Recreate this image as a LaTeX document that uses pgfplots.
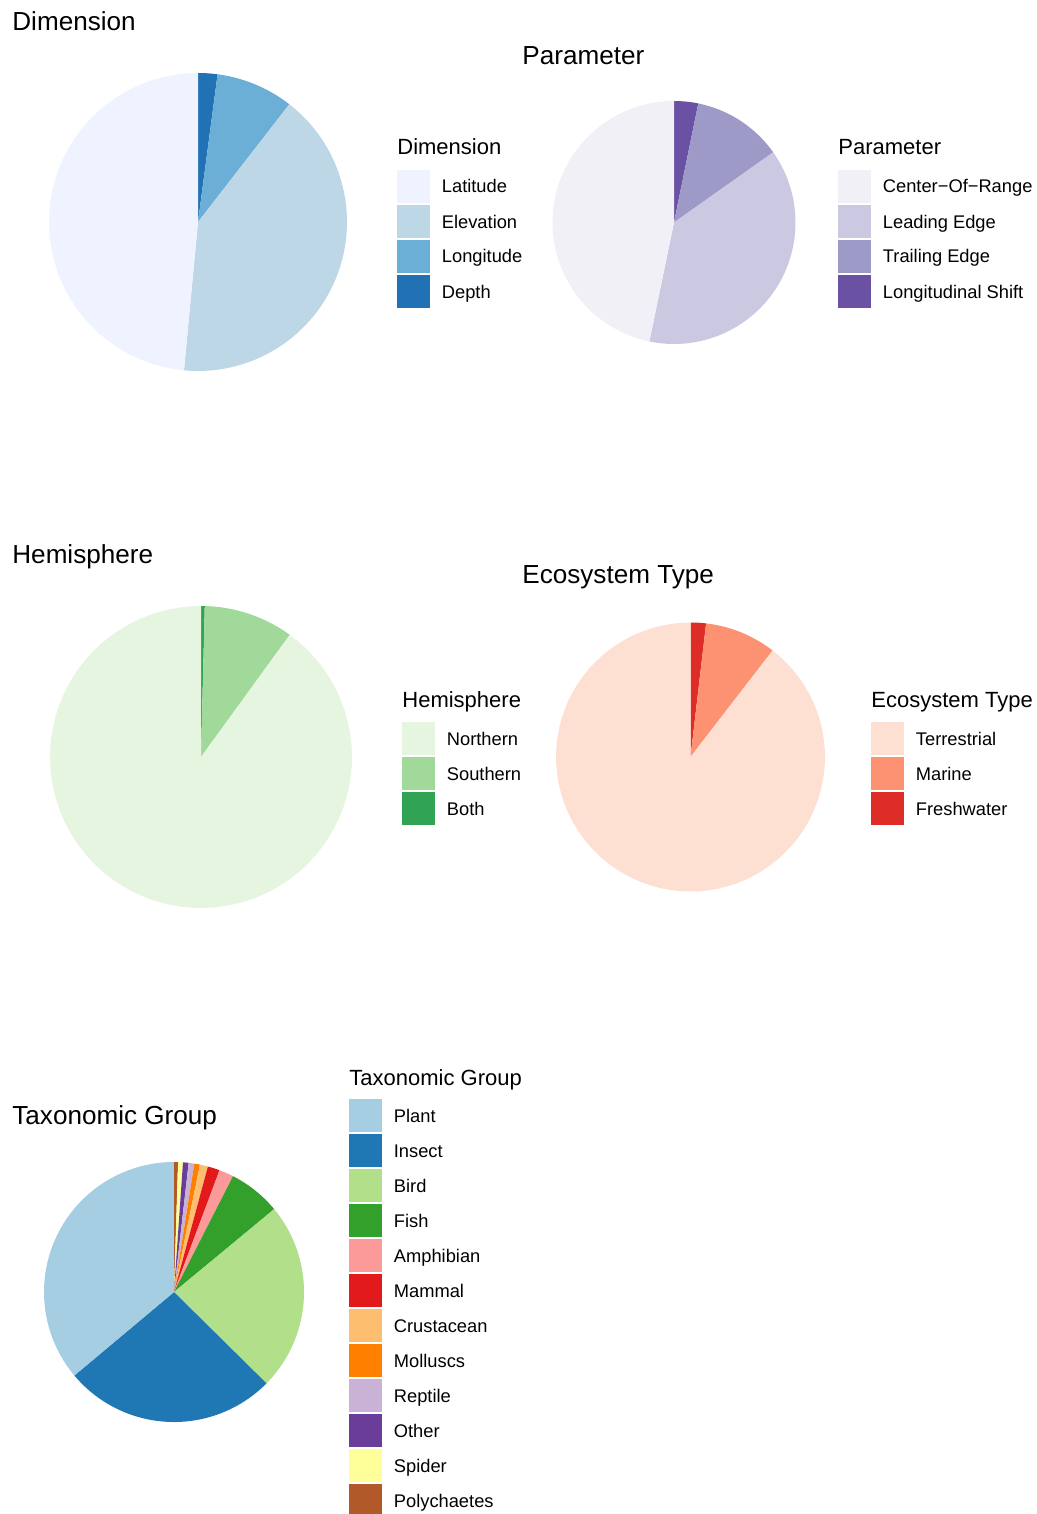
\documentclass[border=0pt]{standalone}
\usepackage{pgfplots}
\pgfplotsset{compat=1.18}
\usepackage{fontspec}
\setmainfont{Liberation Sans}

% Blues
\definecolor{dA}{HTML}{EFF3FF}\definecolor{dB}{HTML}{BDD7E7}\definecolor{dC}{HTML}{6BAED6}\definecolor{dD}{HTML}{2171B5}
% Purples
\definecolor{pA}{HTML}{F2F0F7}\definecolor{pB}{HTML}{CBC9E2}\definecolor{pC}{HTML}{9E9AC8}\definecolor{pD}{HTML}{6A51A3}
% Greens
\definecolor{hA}{HTML}{E5F5E0}\definecolor{hB}{HTML}{A1D99B}\definecolor{hC}{HTML}{31A354}
% Reds
\definecolor{eA}{HTML}{FEE0D2}\definecolor{eB}{HTML}{FC9272}\definecolor{eC}{HTML}{DE2D26}
% Paired
\definecolor{t1}{HTML}{A6CEE3}\definecolor{t2}{HTML}{1F78B4}\definecolor{t3}{HTML}{B2DF8A}
\definecolor{t4}{HTML}{33A02C}\definecolor{t5}{HTML}{FB9A99}\definecolor{t6}{HTML}{E31A1C}
\definecolor{t7}{HTML}{FDBF6F}\definecolor{t8}{HTML}{FF7F00}\definecolor{t9}{HTML}{CAB2D6}
\definecolor{t10}{HTML}{6A3D9A}\definecolor{t11}{HTML}{FFFF99}\definecolor{t12}{HTML}{B15928}

% slice shares in percent, drawn clockwise from 12 o'clock
\gdef\cum{0}
\newcommand\pieslice[2]{%
  \pgfmathsetmacro\pa{\cum*3.6}%
  \pgfmathsetmacro\newcum{\cum+#2}%
  \pgfmathsetmacro\pb{\newcum*3.6}%
  \xdef\cum{\newcum}%
  \edef\doslice{\noexpand\addplot[draw=none, fill=#1, domain=\pa:\pb, samples=80]
    ({sin(x)},{cos(x)}) -- (axis cs:0,0) -- cycle;}%
  \doslice
}
\pgfplotsset{pie/.style={hide axis, scale only axis, clip=false,
  xmin=-1, xmax=1, ymin=-1, ymax=1, anchor=center}}

\newcommand\ptitle[3]{\node[anchor=base west, inner sep=0pt, font=\fontsize{13.05}{15}\selectfont] at (#1,#2) {#3};}
\newcommand\ltitle[3]{\node[anchor=base west, inner sep=0pt, font=\fontsize{11}{13}\selectfont] at (#1,#2) {#3};}
% key: x, top y, colour, label
\newcommand\lkey[4]{%
  \fill[#3] (#1,#2) rectangle ++(33,33);
  \node[anchor=base west, inner sep=0pt, font=\fontsize{9.15}{11}\selectfont] at (#1+44.5,#2+23) {#4};}

\begin{document}
\begin{tikzpicture}[x=0.5pt, y=-0.5pt]
\useasboundingbox (0,0) rectangle (1037,1514);
\coordinate (c1) at (198,222);
\coordinate (c2) at (674,222.5);
\coordinate (c3) at (201,757);
\coordinate (c4) at (690.5,757);
\coordinate (c5) at (174,1292);

% ---- Dimension ----
\begin{axis}[pie, at={(c1)}, width=149pt, height=149pt]
\gdef\cum{0}
\pieslice{dD}{2.1}   % Depth
\pieslice{dC}{8.4}   % Longitude
\pieslice{dB}{41.0}  % Elevation
\pieslice{dA}{48.5}  % Latitude
\end{axis}

% ---- Parameter ----
\begin{axis}[pie, at={(c2)}, width=121.5pt, height=121.5pt]
\gdef\cum{0}
\pieslice{pD}{3.2}    % Longitudinal Shift
\pieslice{pC}{12.0}   % Trailing Edge
\pieslice{pB}{38.05}  % Leading Edge
\pieslice{pA}{46.75}  % Center-Of-Range
\end{axis}

% ---- Hemisphere ----
\begin{axis}[pie, at={(c3)}, width=151pt, height=151pt]
\gdef\cum{0}
\pieslice{hC}{0.4}   % Both
\pieslice{hB}{9.6}   % Southern
\pieslice{hA}{90.0}  % Northern
\end{axis}

% ---- Ecosystem Type ----
\begin{axis}[pie, at={(c4)}, width=134.5pt, height=134.5pt]
\gdef\cum{0}
\pieslice{eC}{1.85}   % Freshwater
\pieslice{eB}{8.6}    % Marine
\pieslice{eA}{89.55}  % Terrestrial
\end{axis}

% ---- Taxonomic Group ----
\begin{axis}[pie, at={(c5)}, width=130pt, height=130pt]
\gdef\cum{0}
\pieslice{t12}{0.5}  % Polychaetes
\pieslice{t11}{0.6}  % Spider
\pieslice{t10}{0.7}  % Other
\pieslice{t9}{0.7}   % Reptile
\pieslice{t8}{0.7}   % Molluscs
\pieslice{t7}{1.0}   % Crustacean
\pieslice{t6}{1.5}   % Mammal
\pieslice{t5}{1.8}   % Amphibian
\pieslice{t4}{6.5}   % Fish
\pieslice{t3}{23.4}  % Bird
\pieslice{t2}{26.5}  % Insect
\pieslice{t1}{36.1}  % Plant
\end{axis}

% ---- titles ----
\ptitle{12}{31}{Dimension}
\ptitle{522}{65}{Parameter}
\ptitle{12}{563}{Hemisphere}
\ptitle{522}{583}{Ecosystem Type}
\ptitle{12}{1124}{Taxonomic Group}

% ---- legends ----
\ltitle{397}{155}{Dimension}
\lkey{397}{170}{dA}{Latitude}
\lkey{397}{205}{dB}{Elevation}
\lkey{397}{240}{dC}{Longitude}
\lkey{397}{275}{dD}{Depth}

\ltitle{838}{155}{Parameter}
\lkey{838}{170}{pA}{Center−Of−Range}
\lkey{838}{205}{pB}{Leading Edge}
\lkey{838}{240}{pC}{Trailing Edge}
\lkey{838}{275}{pD}{Longitudinal Shift}

\ltitle{402}{707}{Hemisphere}
\lkey{402}{722}{hA}{Northern}
\lkey{402}{757}{hB}{Southern}
\lkey{402}{792}{hC}{Both}

\ltitle{871}{707}{Ecosystem Type}
\lkey{871}{722}{eA}{Terrestrial}
\lkey{871}{757}{eB}{Marine}
\lkey{871}{792}{eC}{Freshwater}

\ltitle{349}{1085}{Taxonomic Group}
\lkey{349}{1099}{t1}{Plant}
\lkey{349}{1134}{t2}{Insect}
\lkey{349}{1169}{t3}{Bird}
\lkey{349}{1204}{t4}{Fish}
\lkey{349}{1239}{t5}{Amphibian}
\lkey{349}{1274}{t6}{Mammal}
\lkey{349}{1309}{t7}{Crustacean}
\lkey{349}{1344}{t8}{Molluscs}
\lkey{349}{1379}{t9}{Reptile}
\lkey{349}{1414}{t10}{Other}
\lkey{349}{1449}{t11}{Spider}
\lkey{349}{1484}{t12}{Polychaetes}
\end{tikzpicture}
\end{document}
